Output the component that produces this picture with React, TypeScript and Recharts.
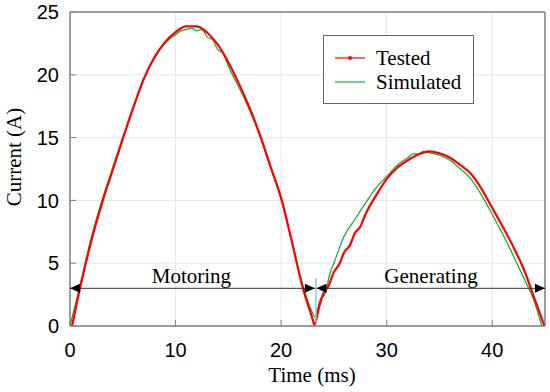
import React from 'react'
import {
  LineChart,
  Line,
  XAxis,
  YAxis,
  CartesianGrid,
  ReferenceLine,
  ReferenceDot,
  ReferenceArea,
} from 'recharts'

// measured phase current, red trace
const testedTime = [
  0.2, 1, 2, 3, 4, 5, 6, 7, 8, 9, 10, 11, 12, 13, 14, 15, 16, 17, 18, 19, 20, 21, 22, 23, 23.15,
  23.6, 24, 24.5, 25, 25.5, 26, 26.5, 27, 27.5, 28, 29, 30, 31, 32, 33, 34, 35, 36, 37, 38, 39, 40,
  41, 42, 43, 44, 44.95,
]
const testedCurrent = [
  0, 3.2, 6.7, 9.7, 12.3, 14.9, 17.4, 19.7, 21.4, 22.6, 23.4, 23.85, 23.85, 23.35, 22.4, 21.0, 19.3,
  17.4, 15.2, 12.7, 10.2, 6.8, 3.2, 0.5, 0.1, 1.5, 2.6, 3.2, 4.3, 4.9, 5.9, 6.4, 7.4, 7.9, 8.9, 10.4,
  11.7, 12.6, 13.2, 13.65, 13.9, 13.75, 13.4, 12.8, 12.1, 10.9, 9.4, 7.9, 6.3, 4.5, 2.2, 0,
]

// simulated phase current, green trace
const simTime = [
  0, 1, 2, 3, 4, 5, 6, 7, 8, 9, 10, 10.5, 11, 11.5, 12, 12.5, 13, 13.5, 14, 14.5, 15, 16, 17, 18,
  19, 20, 21, 22, 23, 23.2, 23.7, 24.2, 24.6, 25, 26, 27, 28, 29, 30, 31, 32, 32.5, 33, 33.5, 34, 35,
  36, 37, 38, 39, 40, 41, 42, 43, 44, 44.7,
]
const simCurrent = [
  0, 3.4, 7.0, 9.9, 12.5, 15.0, 17.4, 19.7, 21.3, 22.5, 23.2, 23.5, 23.6, 23.7, 23.5, 23.6, 23.0,
  22.8, 22.0, 21.7, 20.7, 19.0, 17.2, 15.1, 12.6, 10.1, 6.8, 3.4, 1.0, 0.7, 2.1, 2.6, 4.1, 5.0, 7.2,
  8.5, 9.8, 11.0, 11.9, 12.8, 13.4, 13.7, 13.7, 13.9, 13.8, 13.6, 13.2, 12.5, 11.7, 10.4, 8.9, 7.3,
  5.6, 3.8, 1.9, 0,
]

const xTicks = [0, 10, 20, 30, 40]
const yTicks = [0, 5, 10, 15, 20, 25]

// annotation positions (ms, A)
const arrowLevel = 3
const motoringEnd = 23.2
const generatingStart = 23.35
const markerTime = 23.3
const markerRange = [0.3, 3.8]

const testedData = testedTime.map((t, i) => ({ t, v: testedCurrent[i] }))
const simData = simTime.map((t, i) => ({ t, v: simCurrent[i] }))

const serif = '"Liberation Serif", "Times New Roman", serif'
const sans = '"Liberation Sans", Arial, sans-serif'
const frame = '#808080'

const arrowHead = (dir: 'left' | 'right') => (p: any) => {
  const { cx, cy } = p
  const s = dir === 'left' ? 1 : -1
  return (
    <path
      d={`M${cx},${cy} L${cx + s * 10},${cy - 4.5} L${cx + s * 10},${cy + 4.5} Z`}
      fill="#000"
    />
  )
}

const label = (text: string) => (p: any) => (
  <text x={p.cx} y={p.cy - 5} textAnchor="middle" fontFamily={serif} fontSize={21} fill="#000">
    {text}
  </text>
)

export default function App() {
  return (
    <div style={{ position: 'absolute', left: 0, top: 0, width: 550, height: 392, background: '#fff' }}>
      <LineChart width={550} height={392} margin={{ top: 11, right: 4, bottom: 36, left: 10 }}>
        <CartesianGrid stroke="#e6e6e6" />
        <XAxis
          type="number"
          dataKey="t"
          domain={[0, 45]}
          ticks={xTicks}
          allowDataOverflow
          height={30}
          stroke={frame}
          tickSize={-6}
          tickMargin={23}
          tick={{ fill: '#000', fontSize: 20, fontFamily: sans }}
        />
        <XAxis
          xAxisId="top"
          orientation="top"
          type="number"
          dataKey="t"
          domain={[0, 45]}
          ticks={xTicks}
          height={1}
          stroke={frame}
          tickSize={-6}
          tick={false}
        />
        <YAxis
          type="number"
          domain={[0, 25]}
          ticks={yTicks}
          width={60}
          stroke={frame}
          tickSize={-6}
          tickMargin={17}
          tick={{ fill: '#000', fontSize: 20, fontFamily: sans }}
        />
        <YAxis
          yAxisId="right"
          orientation="right"
          type="number"
          domain={[0, 25]}
          ticks={yTicks}
          width={1}
          stroke={frame}
          tickSize={-6}
          tick={false}
        />
        <ReferenceArea
          x1={0}
          x2={45}
          y1={0}
          y2={25}
          fill="none"
          stroke={frame}
          strokeWidth={1}
          ifOverflow="visible"
        />
        <Line
          data={simData}
          dataKey="v"
          type="monotone"
          stroke="#12b03a"
          strokeWidth={1.3}
          dot={false}
          isAnimationActive={false}
        />
        <Line
          data={testedData}
          dataKey="v"
          type="monotone"
          stroke="#ff0000"
          strokeWidth={2.2}
          dot={false}
          isAnimationActive={false}
        />
        <ReferenceLine
          segment={[
            { x: 0, y: arrowLevel },
            { x: 45, y: arrowLevel },
          ]}
          stroke="#333"
          strokeWidth={1}
        />
        <ReferenceLine
          segment={[
            { x: markerTime, y: markerRange[0] },
            { x: markerTime, y: markerRange[1] },
          ]}
          stroke="#86c9dc"
          strokeWidth={1.5}
        />
        <ReferenceDot x={0} y={arrowLevel} r={0} shape={arrowHead('left')} />
        <ReferenceDot x={motoringEnd} y={arrowLevel} r={0} shape={arrowHead('right')} />
        <ReferenceDot x={generatingStart} y={arrowLevel} r={0} shape={arrowHead('left')} />
        <ReferenceDot x={45} y={arrowLevel} r={0} shape={arrowHead('right')} />
        <ReferenceDot x={11.5} y={arrowLevel} r={0} shape={label('Motoring')} />
        <ReferenceDot x={34.2} y={arrowLevel} r={0} shape={label('Generating')} />
      </LineChart>
      <svg
        width={550}
        height={392}
        style={{ position: 'absolute', left: 0, top: 0, pointerEvents: 'none' }}
      >
        <text x={312} y={382} textAnchor="middle" fontFamily={serif} fontSize={21} fill="#000">
          Time (ms)
        </text>
        <text
          x={21}
          y={157}
          transform="rotate(-90 21 157)"
          textAnchor="middle"
          fontFamily={serif}
          fontSize={21}
          fill="#000"
        >
          Current (A)
        </text>
        <rect x={323.5} y={35.5} width={150} height={68} fill="#fff" stroke="#666" />
        <line x1={335} y1={58} x2={365} y2={58} stroke="#ff0000" strokeWidth={1.2} />
        <circle cx={350} cy={58} r={2} fill="#ff0000" />
        <line x1={335} y1={82} x2={365} y2={82} stroke="#12b03a" strokeWidth={1.2} />
        <text x={376} y={65} fontFamily={serif} fontSize={21} fill="#000">
          Tested
        </text>
        <text x={376} y={89} fontFamily={serif} fontSize={21} fill="#000">
          Simulated
        </text>
      </svg>
    </div>
  )
}
